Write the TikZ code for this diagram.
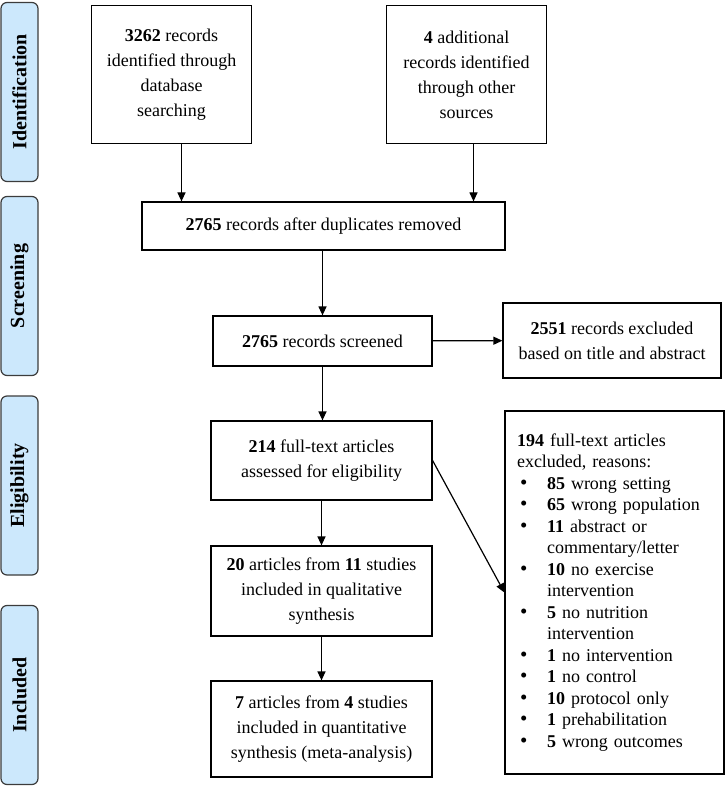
\documentclass[tikz,border=0pt]{standalone}
\usepackage{fontspec}
\setmainfont{Liberation Serif}
\usetikzlibrary{
    arrows.meta,
    positioning
}
\definecolor{phaseblue}{RGB}{204, 232, 252}
\definecolor{phaseedge}{RGB}{60, 60, 60}
\newcommand{\reasonitem}{\hspace*{3pt}\makebox[27pt][l]{\fontsize{21}{21.5}\selectfont\textbullet}}

\begin{document}
\begin{tikzpicture}[
        x=1pt, y=-1pt,
        box/.style={rectangle, draw, line width=1.2pt, align=center, inner sep=0pt, font=\fontsize{18}{25}\selectfont},
        phase/.style={rectangle, rounded corners=6pt, draw=phaseedge, line width=1.2pt, fill=phaseblue, rotate=90, minimum width=179pt, minimum height=37pt, inner sep=0pt, font=\fontsize{20}{24}\selectfont\bfseries},
        arrow/.style={-{Triangle[length=9pt, width=8pt]}, line width=1.2pt}
    ]
        \useasboundingbox (0,0) rectangle (726,786);

        % phase labels
        \node[phase] (ph_ident) at (19.5,92) {Identification};
        \node[phase] (ph_screen) at (19.5,286) {Screening};
        \node[phase] (ph_elig) at (19.5,485.5) {Eligibility};
        \node[phase] (ph_incl) at (19.5,695) {Included};

        \node[box, minimum width=160pt, minimum height=138pt] (db_rec) at (171.5,74.5) {\textbf{3262} records\\identified through\\database\\searching};
        \node[box, minimum width=160pt, minimum height=138pt] (other_rec) at (466.5,74.5) {\textbf{4} additional\\records identified\\through other\\sources};
        \node[box, minimum width=363pt, minimum height=48pt] (dedup) at (323.5,226) {\textbf{2765} records after duplicates removed};
        \node[box, minimum width=219pt, minimum height=50pt] (screened) at (322.5,341) {\textbf{2765} records screened};
        \node[box, minimum width=218pt, minimum height=75pt] (excl_title) at (612,340.5) {\textbf{2551} records excluded\\based on title and abstract};
        \node[box, minimum width=221pt, minimum height=79pt] (fulltext) at (321.5,460.5) {\textbf{214} full-text articles\\assessed for eligibility};
        \node[box, minimum width=221pt, minimum height=90pt] (qual) at (321.5,591) {\textbf{20} articles from \textbf{11} studies\\included in qualitative\\synthesis};
        \node[box, minimum width=221pt, minimum height=96pt] (quant) at (321.5,729) {\textbf{7} articles from \textbf{4} studies\\included in quantitative\\synthesis (meta-analysis)};
        \node[box, align=left, text width=195pt, inner xsep=12pt, minimum height=363pt, font=\fontsize{18}{21.5}\selectfont] (excl_full) at (614.5,592.5) {\textbf{194} full-text articles\\excluded, reasons:\\
            \reasonitem\textbf{85} wrong setting\\
            \reasonitem\textbf{65} wrong population\\
            \reasonitem\textbf{11} abstract or\\
            \hspace*{30pt}commentary/letter\\
            \reasonitem\textbf{10} no exercise\\
            \hspace*{30pt}intervention\\
            \reasonitem\textbf{5} no nutrition\\
            \hspace*{30pt}intervention\\
            \reasonitem\textbf{1} no intervention\\
            \reasonitem\textbf{1} no control\\
            \reasonitem\textbf{10} protocol only\\
            \reasonitem\textbf{1} prehabilitation\\
            \reasonitem\textbf{5} wrong outcomes};

        \draw[arrow] ([xshift=10pt]db_rec.south) -- ([xshift=10pt]db_rec.south |- dedup.north);
        \draw[arrow] ([xshift=7pt]other_rec.south) -- ([xshift=7pt]other_rec.south |- dedup.north);
        \draw[arrow] (dedup.south -| screened.north) -- (screened.north);
        \draw[arrow] (screened) -- (excl_title);
        \draw[arrow] (screened.south) -- (screened.south |- fulltext.north);
        \draw[arrow] (fulltext) -- (qual);
        \draw[arrow] (qual) -- (quant);
        \draw[arrow] (fulltext.east) -- (excl_full.west);
    \end{tikzpicture}
\end{document}
